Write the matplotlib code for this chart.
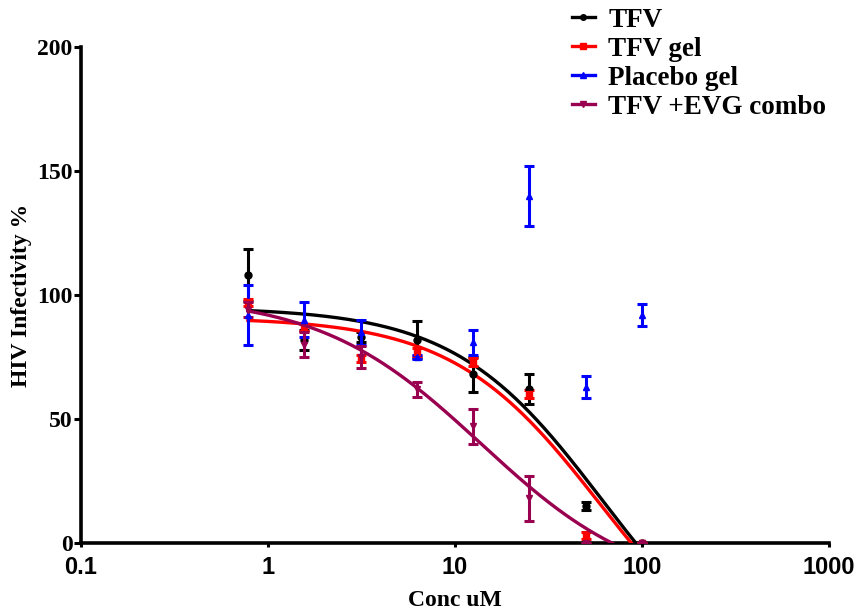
import numpy as np
import matplotlib
matplotlib.use("Agg")
import matplotlib.pyplot as plt
from matplotlib.lines import Line2D

# Concentrations (uM), two-fold dilution series
conc = [0.78125, 1.5625, 3.125, 6.25, 12.5, 25, 50, 100]

# Mean HIV infectivity (%) and SD per series
tfv_mean = [108, 82, 83, 82, 68, 62, 15, 0]
tfv_sd = [10.5, 4, 2, 7.5, 7, 6, 1.5, 0]

tfv_gel_mean = [97, 87, 74.5, 77, 73, 60, 3, 0]
tfv_gel_sd = [1.5, 1.5, 1.5, 1.5, 1.5, 1.5, 1.5, 0]

placebo_mean = [92, 90, 85, 75, 81, 140, 63, 92]
placebo_sd = [12, 7, 5, 1, 5, 12, 4.5, 4.5]

combo_mean = [94, 80, 75, 62, 47, 18, 0, 0]
combo_sd = [3, 5, 4.5, 3, 7, 9, 0, 0]

# Four-parameter logistic fits: top, bottom, IC50 (uM), Hill slope
tfv_fit = [95, -60, 61, 1.1]
tfv_gel_fit = [91, -60, 60, 1.1]
combo_fit = [100, -20, 13.8, 1.0]

labels = ["TFV", "TFV gel", "Placebo gel", "TFV +EVG combo"]
colors = ["#000000", "#ff0000", "#0000ff", "#990050"]
markers = ["o", "s", "^", "v"]

serif = ["Liberation Serif", "DejaVu Serif"]
sans = ["Liberation Sans", "DejaVu Sans"]


def logistic(x, top, bottom, ic50, hill):
    return bottom + (top - bottom) / (1.0 + (x / ic50) ** hill)


fig = plt.figure(figsize=(8.58, 6.14), dpi=100)
ax = fig.add_axes([81 / 858, 71 / 614, 748 / 858, 496 / 614])

xs = np.logspace(np.log10(conc[0]), np.log10(conc[-1]), 400)

series = [
    (placebo_mean, placebo_sd, None, 2),
    (tfv_gel_mean, tfv_gel_sd, tfv_gel_fit, 1),
    (combo_mean, combo_sd, combo_fit, 3),
    (tfv_mean, tfv_sd, tfv_fit, 0),
]
for mean, sd, fit, idx in series:
    c = colors[idx]
    ax.errorbar(conc, mean, yerr=sd, fmt=markers[idx], color=c, ms=5,
                elinewidth=2.2, capsize=3.5, capthick=2.2, zorder=3 + idx * 0.1)
    if fit is not None:
        ax.plot(xs, logistic(xs, *fit), color=c, lw=2.4, zorder=3 + idx * 0.1)

ax.set_xscale("log")
ax.set_xlim(0.1, 1000)
ax.set_ylim(0, 200)
ax.set_xticks([0.1, 1, 10, 100, 1000])
ax.set_xticklabels(["0.1", "1", "10", "100", "1000"])
ax.xaxis.set_minor_locator(matplotlib.ticker.NullLocator())
ax.set_yticks([0, 50, 100, 150, 200])

for s in ("top", "right"):
    ax.spines[s].set_visible(False)
for s in ("left", "bottom"):
    ax.spines[s].set_linewidth(2.6)

ax.tick_params(axis="y", direction="out", length=5, width=2.2, pad=1)
ax.tick_params(axis="x", direction="out", length=3, width=2.2, pad=6)
for t in ax.get_yticklabels():
    t.set_fontfamily(serif)
    t.set_fontweight("bold")
    t.set_fontsize(17)
for t in ax.get_xticklabels():
    t.set_fontfamily(sans)
    t.set_fontweight("bold")
    t.set_fontsize(17)

ax.set_ylabel("HIV Infectivity %", fontfamily=serif, fontweight="bold",
              fontsize=17, labelpad=4)
ax.set_xlabel("Conc uM", fontfamily=serif, fontweight="bold",
              fontsize=17, labelpad=8)

handles = [Line2D([0], [0], color=colors[i], marker=markers[i], ms=4, lw=2.4)
           for i in range(4)]
fig.legend(handles, labels, loc="upper left",
           bbox_to_anchor=(558 / 858, 1.0 + 6 / 614),
           frameon=False, handlelength=0.85, handletextpad=0.5,
           labelspacing=0.15, borderpad=0,
           prop={"family": serif, "weight": "bold", "size": 19.5})

fig.savefig("out.png", dpi=100)
